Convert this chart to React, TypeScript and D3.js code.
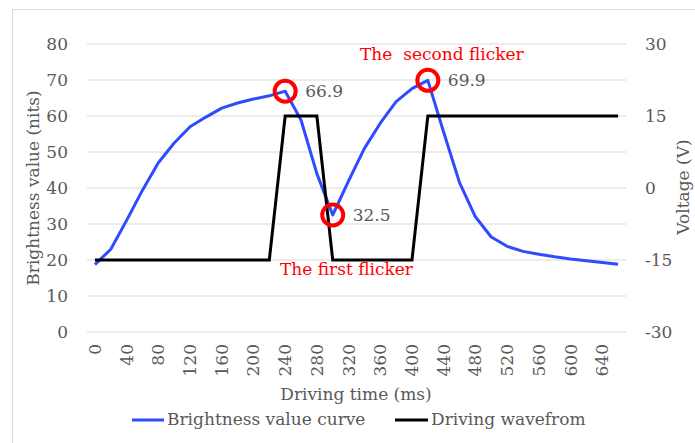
import React from "react";
import * as d3 from "d3";

// Driving time categories (ms), one every 20 ms
const times: number[] = d3.range(0, 680, 20);

// Brightness (nits), left axis
const brightness: number[] = [
  18.7, 23.0, 31.0, 39.4, 47.0, 52.5, 57.0, 59.7, 62.2, 63.6, 64.7, 65.6, 66.9,
  58.9, 44.0, 32.5, 42.0, 51.0, 58.0, 64.0, 67.6, 69.9, 55.5, 41.5, 32.0, 26.4,
  23.8, 22.4, 21.6, 20.9, 20.3, 19.8, 19.3, 18.8,
];

// Driving voltage (V), right axis
const voltage: number[] = [
  -15, -15, -15, -15, -15, -15, -15, -15, -15, -15, -15, -15, 15, 15, 15, -15,
  -15, -15, -15, -15, -15, 15, 15, 15, 15, 15, 15, 15, 15, 15, 15, 15, 15, 15,
];

const leftTicks: number[] = [0, 10, 20, 30, 40, 50, 60, 70, 80];
const rightTicks: number[] = [-30, -15, 0, 15, 30];
const xTickLabels: number[] = d3.range(0, 680, 40);

// Highlighted flicker points (indexes into times)
const markedPoints: number[] = [12, 15, 21];

const W = 695;
const H = 443;
const FONT = "'DejaVu Serif', serif";
const GREY = "#595959";

export default function App() {
  const left = 87;
  const right = 626;
  const top = 44;
  const bottom = 332;

  const x = d3
    .scaleBand<number>()
    .domain(times)
    .range([left, right])
    .paddingInner(0)
    .paddingOuter(0);
  const cx = (t: number) => (x(t) as number) + x.bandwidth() / 2;
  const yL = d3.scaleLinear().domain([0, 80]).range([bottom, top]);
  const yR = d3.scaleLinear().domain([-30, 30]).range([bottom, top]);

  const blueLine = d3
    .line<number>()
    .x((_, i) => cx(times[i]))
    .y((d) => yL(d));
  const blackLine = d3
    .line<number>()
    .x((_, i) => cx(times[i]))
    .y((d) => yR(d));

  return (
    <svg
      width={W}
      height={H}
      style={{ position: "absolute", left: 0, top: 0, background: "#fff" }}
      fontFamily={FONT}
    >
      <rect x={12.5} y={9.5} width={W + 20} height={H + 20} fill="#fff" stroke="#d9d9d9" />

      {leftTicks.map((t) => (
        <line key={"g" + t} x1={left} x2={right} y1={yL(t)} y2={yL(t)} stroke="#d9d9d9" strokeWidth={1} />
      ))}

      {leftTicks.map((t) => (
        <text key={"l" + t} x={68} y={yL(t)} dy="0.36em" textAnchor="end" fontSize={17} fill={GREY}>
          {t}
        </text>
      ))}
      {rightTicks.map((t) => (
        <text key={"r" + t} x={645} y={yR(t)} dy="0.36em" textAnchor="start" fontSize={17} fill={GREY}>
          {t}
        </text>
      ))}
      {xTickLabels.map((t) => (
        <text
          key={"x" + t}
          transform={`translate(${cx(t) + 6},344) rotate(-90)`}
          textAnchor="end"
          fontSize={17}
          fill={GREY}
        >
          {t}
        </text>
      ))}

      <text transform="translate(39,188) rotate(-90)" textAnchor="middle" fontSize={17} fill={GREY}>
        Brightness value (nits)
      </text>
      <text transform="translate(689,187) rotate(-90)" textAnchor="middle" fontSize={17} fill={GREY}>
        Voltage (V)
      </text>
      <text x={356} y={400} textAnchor="middle" fontSize={17} fill={GREY}>
        Driving time (ms)
      </text>

      <path d={blueLine(brightness) ?? ""} fill="none" stroke="#2e4bff" strokeWidth={3} strokeLinejoin="round" />
      <path d={blackLine(voltage) ?? ""} fill="none" stroke="#000" strokeWidth={3} strokeLinejoin="miter" />

      {markedPoints.map((i) => (
        <circle key={"c" + i} cx={cx(times[i])} cy={yL(brightness[i])} r={10.5} fill="none" stroke="#ff0000" strokeWidth={4} />
      ))}
      {markedPoints.map((i) => (
        <text
          key={"v" + i}
          x={cx(times[i]) + 20}
          y={yL(brightness[i])}
          dy="0.36em"
          fontSize={17}
          fill={GREY}
        >
          {brightness[i].toFixed(1)}
        </text>
      ))}

      <text x={360} y={60} fontSize={17} fill="#ff0000" style={{ whiteSpace: "pre" }}>
        {"The  second flicker"}
      </text>
      <text x={280} y={275} fontSize={17} fill="#ff0000">
        The first flicker
      </text>

      <line x1={132} x2={164} y1={420} y2={420} stroke="#2e4bff" strokeWidth={3} />
      <text x={167} y={425} fontSize={17} fill={GREY}>
        Brightness value curve
      </text>
      <line x1={395} x2={428} y1={420} y2={420} stroke="#000" strokeWidth={3} />
      <text x={431} y={425} fontSize={17} fill={GREY}>
        Driving wavefrom
      </text>
    </svg>
  );
}
